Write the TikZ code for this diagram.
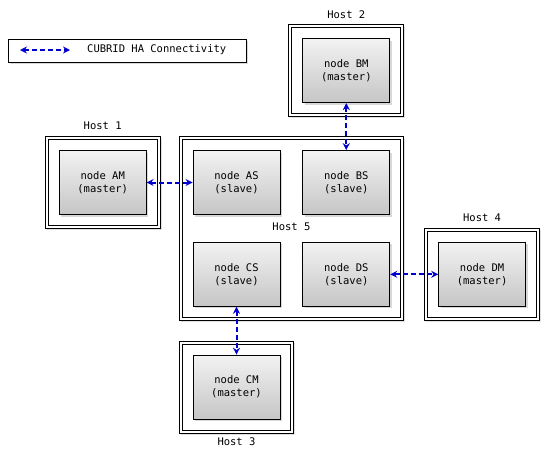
\documentclass[tikz,border=0pt]{standalone}
\usepackage{fontspec}
\setmainfont{DejaVu Sans Mono}
\usetikzlibrary{positioning,fit,shadows,backgrounds,arrows.meta}

\definecolor{hablue}{RGB}{0,0,204}

\tikzset{
  dbnode/.style={draw=black, line width=0.8pt, top color=gray!10, bottom color=gray!45,
    minimum width=87pt, minimum height=64pt, align=center,
    font=\fontsize{10.5}{13}\selectfont,
    drop shadow={shadow xshift=2pt, shadow yshift=-2pt, opacity=.3}},
  hostbox/.style={draw=black, line width=0.9pt, fill=white, inner sep=13.5pt,
    drop shadow={shadow xshift=1.5pt, shadow yshift=-1.5pt, opacity=.25}},
  hostframe/.style={draw=black, line width=0.9pt, inner sep=10.5pt},
  hostname/.style={font=\fontsize{10.5}{13}\selectfont, inner sep=1pt},
  ha/.style={{Stealth[length=7pt,width=7pt]}-{Stealth[length=7pt,width=7pt]},
    draw=hablue, line width=2pt, dash pattern=on 5pt off 3pt}
}

\begin{document}
\begin{tikzpicture}[x=1pt,y=-1pt]
\useasboundingbox (0,0) rectangle (547,456);

% legend
\node (legend) [draw=black, line width=0.9pt, fill=white, minimum width=238pt, minimum height=23pt,
  drop shadow={shadow xshift=2pt, shadow yshift=-2pt, opacity=.3}] at (127,50.5) {};
\coordinate (lgA) at (20,50);
\coordinate (lgB) at (70,50);
\node (lgtext) [anchor=west, font=\fontsize{10.5}{13}\selectfont, inner sep=0pt] at (87,50) {CUBRID HA Connectivity};
\draw[ha] (lgA) -- (lgB);

% slaves on host 5
\node (as) [dbnode] at (236.5,182.5) {node AS\\(slave)};
\node (bs) [dbnode, right=22pt of as] {node BS\\(slave)};
\node (cs) [dbnode, below=27pt of as] {node CS\\(slave)};
\node (ds) [dbnode, right=22pt of cs] {node DS\\(slave)};

% masters
\node (am) [dbnode, left=46pt of as] {node AM\\(master)};
\node (bm) [dbnode, above=47pt of bs] {node BM\\(master)};
\node (cm) [dbnode, below=48pt of cs] {node CM\\(master)};
\node (dm) [dbnode, right=48pt of ds] {node DM\\(master)};

% hosts, outer box then inner frame
\begin{scope}[on background layer]
  \node (host1) [hostbox, fit=(am)] {};
  \node (host1in) [hostframe, fit=(am)] {};
  \node (host2) [hostbox, fit=(bm)] {};
  \node (host2in) [hostframe, fit=(bm)] {};
  \node (host3) [hostbox, fit=(cm)] {};
  \node (host3in) [hostframe, fit=(cm)] {};
  \node (host4) [hostbox, fit=(dm)] {};
  \node (host4in) [hostframe, fit=(dm)] {};
  \node (host5) [hostbox, fit=(as)(bs)(cs)(ds)] {};
  \node (host5in) [hostframe, fit=(as)(bs)(cs)(ds)] {};
\end{scope}

\node (h1) [hostname, above=5pt of host1] {Host 1};
\node (h2) [hostname, above=5pt of host2] {Host 2};
\node (h3) [hostname, below=3pt of host3] {Host 3};
\node (h4) [hostname, above=5pt of host4] {Host 4};
\node (h5) [hostname, yshift=2pt] at (host5.center) {Host 5};

% HA links
\draw[ha] (am) -- (as);
\draw[ha] (bm) -- (bs);
\draw[ha] (cs) -- (cm);
\draw[ha] (ds) -- (dm);
\end{tikzpicture}
\end{document}
